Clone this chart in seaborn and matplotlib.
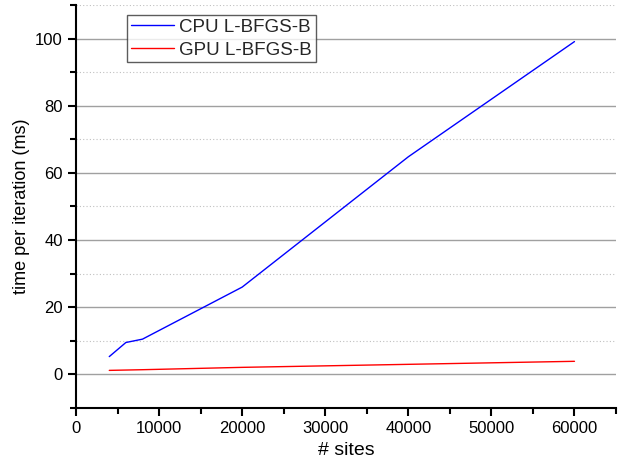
import matplotlib
matplotlib.use("Agg")
import matplotlib.pyplot as plt
import seaborn as sns
import pandas as pd
from matplotlib.ticker import MultipleLocator

sites = [4000, 6000, 8000, 20000, 40000, 60000]
cpu_ms = [5.3, 9.5, 10.5, 26.0, 64.8, 99.1]
gpu_ms = [1.2, 1.3, 1.4, 2.1, 3.0, 3.9]

df = pd.DataFrame({
    "sites": sites * 2,
    "time": cpu_ms + gpu_ms,
    "method": ["CPU L-BFGS-B"] * len(sites) + ["GPU L-BFGS-B"] * len(sites),
})

sns.set_theme(style="white")
plt.rcParams["font.family"] = ["Liberation Sans", "DejaVu Sans"]

fig = plt.figure(figsize=(6.32, 4.62), dpi=100)
ax = fig.add_axes([0.1203, 0.1169, 0.8544, 0.8723])

sns.lineplot(data=df, x="sites", y="time", hue="method",
             palette={"CPU L-BFGS-B": "#0000ff", "GPU L-BFGS-B": "#ff0000"},
             linewidth=1.0, ax=ax)

ax.set_xlim(0, 65000)
ax.set_ylim(-10, 110)
ax.xaxis.set_major_locator(MultipleLocator(10000))
ax.xaxis.set_minor_locator(MultipleLocator(5000))
ax.yaxis.set_major_locator(MultipleLocator(20))
ax.yaxis.set_minor_locator(MultipleLocator(10))

ax.grid(which="major", axis="y", color="#a0a0a0", linewidth=1.0, linestyle="-")
ax.grid(which="minor", axis="y", color="#c0c0c0", linewidth=0.8, linestyle=(0, (1, 2)))
ax.set_axisbelow(True)

for s in ("top", "right"):
    ax.spines[s].set_visible(False)
for s in ("left", "bottom"):
    ax.spines[s].set_color("black")
    ax.spines[s].set_linewidth(1.5)

ax.tick_params(which="major", direction="out", length=6, width=1.5, colors="black",
               labelsize=12, bottom=True, left=True)
ax.tick_params(which="minor", direction="out", length=4, width=1.5, colors="black",
               bottom=True, left=True)

ax.set_xlabel("# sites", fontsize=14, color="black")
ax.set_ylabel("time per iteration (ms)", fontsize=13, color="black")

leg = ax.legend(loc="upper left", bbox_to_anchor=(0.094, 0.975), fontsize=13.5,
                frameon=True, fancybox=False, edgecolor="#333333",
                handlelength=2.3, borderpad=0.2, labelspacing=0.3,
                handletextpad=0.3, borderaxespad=0.0)
leg.get_frame().set_linewidth(1.0)

fig.savefig("out.png", dpi=100)
